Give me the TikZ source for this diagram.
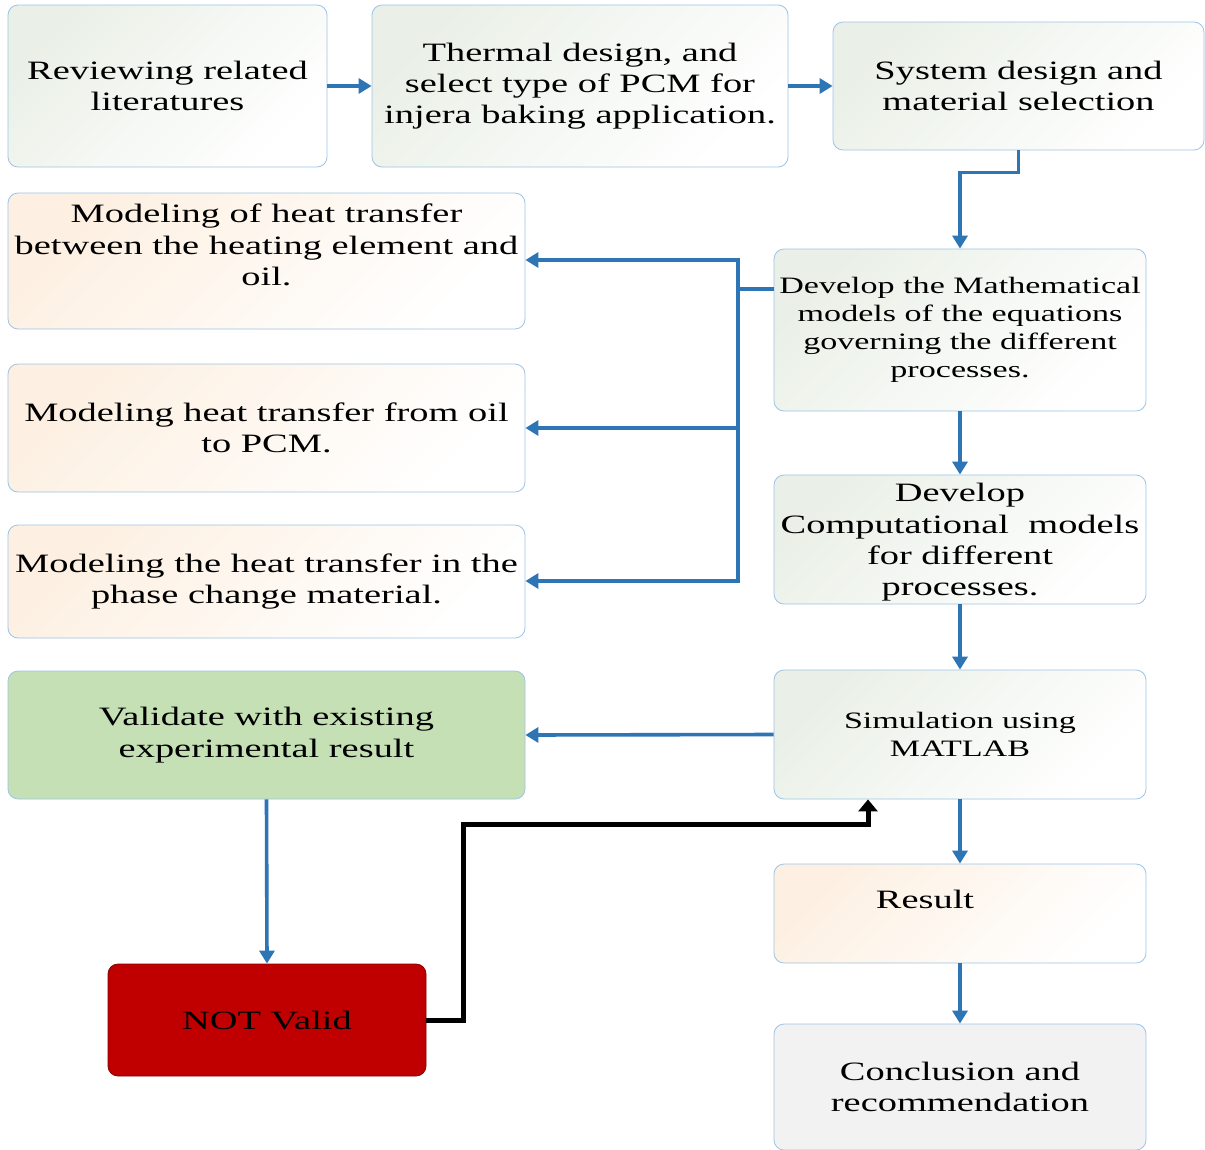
\documentclass[tikz,border=0pt]{standalone}
\usepackage{fontspec}
\setmainfont{Liberation Serif}[FakeStretch=1.45]
\usetikzlibrary{arrows.meta,calc}
\definecolor{bordc}{RGB}{157,195,230}
\definecolor{arrc}{RGB}{46,117,182}
\definecolor{greenish}{RGB}{234,240,231}
\definecolor{peach}{RGB}{253,240,226}
\definecolor{valgreen}{RGB}{197,224,180}
\definecolor{notred}{RGB}{192,0,0}
\definecolor{concgray}{RGB}{242,242,242}
\tikzset{
  box/.style={draw=bordc, line width=0.8pt, rounded corners=10pt, align=center,
    inner sep=0pt, font=\fontsize{26.5pt}{31.3pt}\selectfont},
  gbox/.style={box, top color=greenish, bottom color=white, shading angle=45},
  pbox/.style={box, top color=peach, bottom color=white, shading angle=45},
  arr/.style={draw=arrc, line width=3.6pt, line join=miter,
    -{Triangle[length=13pt,width=15pt]}},
  barr/.style={draw=arrc, line width=3.6pt, line join=miter,
    {Triangle[length=13pt,width=15pt]}-{Triangle[length=13pt,width=15pt]}},
  bline/.style={draw=arrc, line width=3.6pt, line join=miter},
  blk/.style={draw=black, line width=5pt, line join=miter,
    -{Triangle[length=12pt,width=19pt]}},
}
\begin{document}
\begin{tikzpicture}[x=1pt,y=-1pt]
\useasboundingbox (0,0) rectangle (1205,1149);
% top row
\node[gbox, minimum width=319pt, minimum height=162pt] (rev) at (167.5,86) {Reviewing related\\literatures};
\node[gbox, minimum width=416pt, minimum height=162pt] (therm) at (580,86) {Thermal design, and\\select type of PCM for\\injera baking application.};
\node[gbox, minimum width=371pt, minimum height=128pt] (sys) at (1018.5,86) {System design and\\material selection};
% modeling boxes
\node[pbox, minimum width=517pt, minimum height=136pt] (mod1) at (266.5,261)
  {\raisebox{13pt}[\height][\depth]{\begin{tabular}{@{}c@{}}Modeling of heat transfer\\between the heating element and\\oil.\end{tabular}}};
\node[pbox, minimum width=517pt, minimum height=128pt] (mod2) at (266.5,428) {Modeling heat transfer from oil\\to PCM.};
\node[pbox, minimum width=517pt, minimum height=113pt] (mod3) at (266.5,581.5) {Modeling the heat transfer in the\\phase change material.};
\node[box, fill=valgreen, minimum width=517pt, minimum height=128pt] (valid) at (266.5,735) {Validate with existing\\experimental result};
\node[box, draw=notred!70!black, fill=notred, minimum width=318pt, minimum height=112pt] (notv) at (267,1020) {NOT Valid};
% right column
\node[gbox, minimum width=372pt, minimum height=162pt, font=\fontsize{23.5pt}{28pt}\selectfont] (math) at (960,330)
  {Develop the Mathematical\\models of the equations\\governing the different\\processes.};
\node[gbox, minimum width=372pt, minimum height=129pt] (comp) at (960,539.5)
  {\raisebox{-3pt}[\height][\depth]{\begin{tabular}{@{}c@{}}Develop\\Computational\ \ models\\for different\\processes.\end{tabular}}};
\node[gbox, minimum width=372pt, minimum height=129pt, font=\fontsize{23.5pt}{28pt}\selectfont] (sim) at (960,734.5)
  {Simulation using\\MATLAB};
\node[pbox, minimum width=372pt, minimum height=99pt] (res) at (960,913.5)
  {\hspace*{-70pt}\raisebox{14pt}[\height][\depth]{Result}};
\node[box, fill=concgray, minimum width=372pt, minimum height=126pt] (conc) at (960,1087)
  {Conclusion and\\recommendation};
% connectors
\draw[arr] (rev.east) -- (therm.west);
\draw[arr] (therm.east) -- (sys.west);
\draw[arr] (sys.south) -- ++(0,22) -| (math.north);
\coordinate (b1) at (738,260);
\coordinate (b2) at (738,428);
\coordinate (b3) at (738,581);
\coordinate (mj) at ([yshift=41pt]math.west);
\draw[bline] (mj) -- (mj -| b1);
\draw[barr] (b1 -| mod1.east) -- (b1) -- (b3) -- (b3 -| mod3.east);
\draw[arr] (b2) -- (b2 -| mod2.east);
\draw[arr] (math.south) -- (comp.north);
\draw[arr] (comp.south) -- (sim.north);
\draw[arr] (sim.west) -- (valid.east);
\draw[arr] (valid.south) -- (notv.north);
\draw[arr] (sim.south) -- (res.north);
\draw[arr] (res.south) -- (conc.north);
\coordinate (k) at ([xshift=-92pt]sim.south);
\draw[blk] (notv.east) -- ++(37,0) |- ([yshift=-25pt]k) -- (k);
\end{tikzpicture}
\end{document}
